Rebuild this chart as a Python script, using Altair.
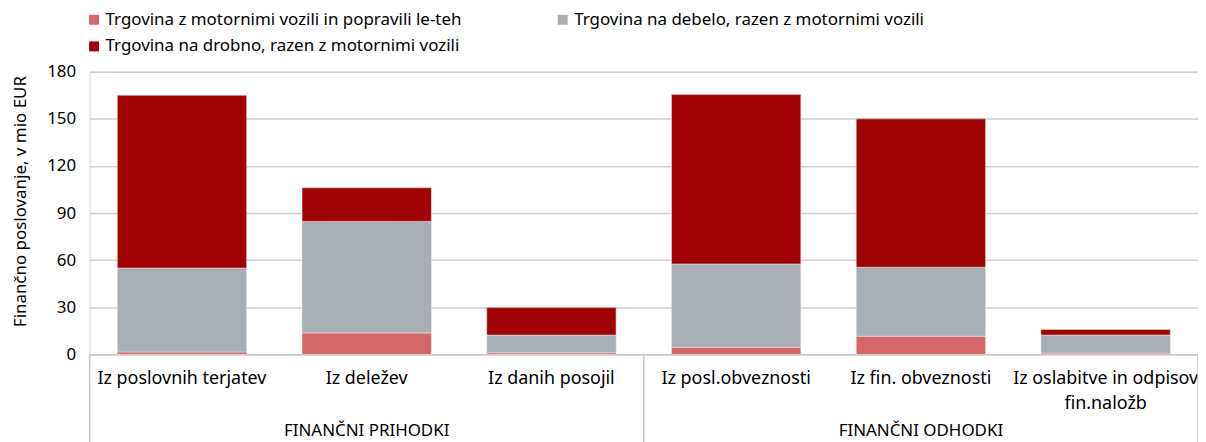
import altair as alt
import pandas as pd

categories = [
    "Iz poslovnih terjatev",
    "Iz deležev",
    "Iz danih posojil",
    "Iz posl.obveznosti",
    "Iz fin. obveznosti",
    "Iz oslabitve in odpisov|fin.naložb",
]
series = [
    "Trgovina z motornimi vozili in popravili le-teh",
    "Trgovina na debelo, razen z motornimi vozili",
    "Trgovina na drobno, razen z motornimi vozili",
]
motor = [1.5, 13.6, 1.0, 4.5, 11.5, 0.8]
debelo = [53.5, 71.1, 11.3, 53.1, 44.0, 11.5]
drobno = [110.0, 21.4, 17.5, 107.9, 94.5, 3.5]
colors = ["#D46666", "#A7AEB4", "#A00303"]

groups = ["FINANČNI PRIHODKI", "FINANČNI ODHODKI"]
group_mid = [categories[1], categories[4]]

rows = []
for si, (name, vals) in enumerate(zip(series, [motor, debelo, drobno])):
    for c, v in zip(categories, vals):
        rows.append({"cat": c, "series": name, "value": v, "order": si})
df = pd.DataFrame(rows)

# legend grid fills column-wise: order entries so rows read pink, grey / red
legend_order = [series[0], series[2], series[1]]
legend_colors = [colors[0], colors[2], colors[1]]

FONT = "Noto Sans"
FS = 18
W, H = 1114, 284

xscale = alt.Scale(domain=categories, paddingInner=0, paddingOuter=0)

bars = alt.Chart(df).mark_bar(width={"band": 0.7}, stroke="#e8e8e8", strokeWidth=0.5).encode(
    x=alt.X("cat:N", scale=xscale, sort=categories,
            axis=alt.Axis(title=None, labelAngle=0, ticks=False, domain=True,
                          domainColor="#c8c8c8", domainWidth=1.5,
                          labelExpr="split(datum.label, '|')", labelLimit=400,
                          labelFontSize=FS, labelFont=FONT, labelColor="#000000",
                          labelPadding=15, labelLineHeight=25)),
    y=alt.Y("value:Q", stack="zero",
            scale=alt.Scale(domain=[0, 180]),
            axis=alt.Axis(title="Finančno poslovanje, v mio EUR", values=[0, 30, 60, 90, 120, 150, 180],
                          titleFont=FONT, titleFontSize=17, titleFontWeight="normal",
                          titleColor="#000000", titlePadding=17, titleY=130,
                          labelFont=FONT, labelFontSize=17, labelColor="#000000",
                          labelPadding=14, ticks=False, domain=False,
                          gridColor="#cfcfcf", gridWidth=1.5)),
    color=alt.Color("series:N", scale=alt.Scale(domain=legend_order, range=legend_colors),
                    legend=alt.Legend(title=None, orient="none", legendX=-4, legendY=-61,
                                      columns=2, columnPadding=93, rowPadding=9,
                                      symbolType="square", symbolSize=100, symbolStrokeWidth=0,
                                      labelFont=FONT, labelFontSize=17, labelColor="#000000",
                                      labelOffset=3, labelLimit=600)),
    order=alt.Order("order:Q", sort="ascending"),
)

sep_left = pd.DataFrame({"cat": [categories[0], categories[3]]})
sep_right = pd.DataFrame({"cat": [categories[5]]})

rule_l = alt.Chart(sep_left).mark_rule(color="#c8c8c8", strokeWidth=1.5).encode(
    x=alt.X("cat:N", scale=xscale, sort=categories, bandPosition=0),
    y=alt.value(H), y2=alt.value(H + 95),
)
rule_r = alt.Chart(sep_right).mark_rule(color="#c8c8c8", strokeWidth=1.5).encode(
    x=alt.X("cat:N", scale=xscale, sort=categories, bandPosition=1),
    y=alt.value(H), y2=alt.value(H + 95),
)

gdf = pd.DataFrame({"cat": group_mid, "label": groups})
glabels = alt.Chart(gdf).mark_text(font=FONT, fontSize=17, color="#000000", baseline="middle").encode(
    x=alt.X("cat:N", scale=xscale, sort=categories),
    y=alt.value(H + 77),
    text="label:N",
)

chart = alt.layer(bars, rule_l, rule_r, glabels).properties(
    width=W, height=H,
    autosize=alt.AutoSizeParams(type="none"),
    padding={"left": 82, "top": 63, "right": 0, "bottom": 87},
).configure_view(stroke="#c8c8c8", strokeWidth=1.5).configure(background="white")

chart.save("out.html", embed_options={"renderer": "svg", "actions": False})
